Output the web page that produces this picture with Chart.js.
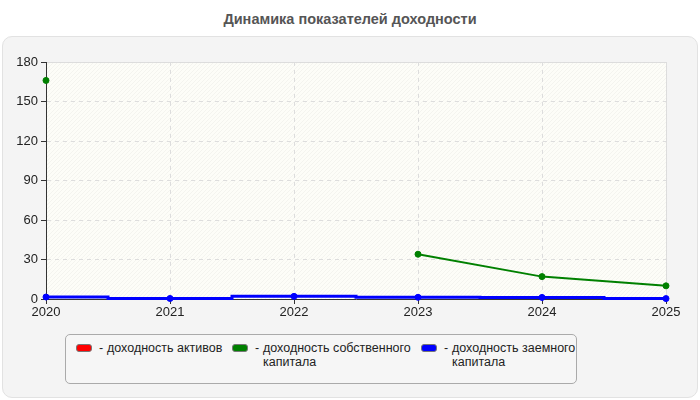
<!DOCTYPE html>
<html>
<head>
<meta charset="utf-8">
<script src="https://cdn.jsdelivr.net/npm/chart.js@4"></script>
<style>
  body { margin: 0; background: #fff; font-family: "Liberation Sans", Arial, sans-serif; }
  #title { position: absolute; left: 0; top: 11px; width: 700px; text-align: center; font-weight: bold; font-size: 14.5px; color: #555; }
  #panel { position: absolute; left: 2px; top: 36px; width: 694px; height: 360px; background: #f4f4f4; border: 1px solid #e2e2e2; border-radius: 10px; }
  #wrap { position: absolute; left: 0; top: 37px; width: 700px; height: 290px; }
  #legend { position: absolute; left: 65px; top: 334px; width: 510px; height: 48px; border: 1px solid #aaa; border-radius: 5px; background: #f6f6f6; }
  .item { position: absolute; top: 6px; font-size: 12.5px; color: #222; line-height: 14px; }
  .sw { position: absolute; left: 0; top: 3px; width: 14px; height: 6px; border: 1px solid #777; border-radius: 3px; }
  .dash { position: absolute; left: 23px; top: 0; }
  .txt { position: absolute; left: 31px; top: 0; white-space: nowrap; }
</style>
</head>
<body>
<div id="title">Динамика показателей доходности</div>
<div id="panel"></div>
<div id="wrap"><canvas id="chart" width="700" height="290"></canvas></div>
<div id="legend"></div>

<script>
const years = ["2020", "2021", "2022", "2023", "2024", "2025"];
const assetReturn = [null, null, null, null, null, null];
const equityReturn = [166, null, null, 34, 17, 10];
const debtReturn = [1.5, 0.4, 2, 1.3, 1.2, 0.3];
const yTicks = [0, 30, 60, 90, 120, 150, 180];

const seriesNames = ["доходность активов", "доходность собственного\nкапитала", "доходность заемного\nкапитала"];
const seriesColors = ["#ff0000", "#008000", "#0000ff"];

/* Legend */
const legendBox = document.getElementById("legend");
const legendX = [10, 166, 355];
seriesNames.forEach((name, i) => {
  const item = document.createElement("div");
  item.className = "item";
  item.style.left = legendX[i] + "px";
  item.innerHTML = '<div class="sw" style="background:' + seriesColors[i] + '"></div>' +
    '<span class="dash">-</span>' +
    '<div class="txt">' + name.replace("\n", "<br>") + '</div>';
  legendBox.appendChild(item);
});

/* Plot area background with hatching */
const plotBg = {
  id: "plotBg",
  beforeDraw(chart) {
    const { ctx, chartArea: a } = chart;
    ctx.save();
    ctx.fillStyle = "#fdfdf8";
    ctx.fillRect(a.left, a.top, a.right - a.left, a.bottom - a.top);
    ctx.beginPath();
    ctx.rect(a.left, a.top, a.right - a.left, a.bottom - a.top);
    ctx.clip();
    ctx.strokeStyle = "rgba(0,0,0,0.035)";
    ctx.lineWidth = 1;
    for (let x = a.left - (a.bottom - a.top); x < a.right; x += 4) {
      ctx.beginPath();
      ctx.moveTo(x, a.bottom);
      ctx.lineTo(x + (a.bottom - a.top), a.top);
      ctx.stroke();
    }
    ctx.restore();
    ctx.save();
    ctx.strokeStyle = "#dcdcdc";
    ctx.strokeRect(a.left + 0.5, a.top + 0.5, a.right - a.left, a.bottom - a.top);
    ctx.restore();
  }
};

const tickFont = { family: "Liberation Sans", size: 13 };

const ctx = document.getElementById("chart").getContext("2d");
new Chart(ctx, {
  type: "line",
  data: {
    labels: years,
    datasets: [
      { label: seriesNames[0], data: assetReturn, borderColor: seriesColors[0], backgroundColor: seriesColors[0], borderWidth: 2, pointRadius: 3, pointBorderWidth: 1, clip: false },
      { label: seriesNames[1], data: equityReturn, borderColor: seriesColors[1], backgroundColor: seriesColors[1], borderWidth: 2, pointRadius: 3, pointBorderWidth: 1, clip: false },
      { label: seriesNames[2], data: debtReturn, borderColor: seriesColors[2], backgroundColor: seriesColors[2], borderWidth: 3, pointRadius: 3, pointBorderWidth: 1, stepped: "middle", clip: false }
    ]
  },
  plugins: [plotBg],
  options: {
    responsive: false,
    animation: false,
    layout: { padding: { top: 25, right: 34, left: 0, bottom: 0 } },
    plugins: { legend: { display: false }, tooltip: { enabled: false } },
    scales: {
      x: {
        offset: false,
        grid: { color: "#dddddd", tickLength: 5, tickColor: "#333" },
        border: { color: "#333", width: 1, dash: [4, 4] },
        ticks: { color: "#222", font: tickFont, padding: 1, maxRotation: 0 },
        afterFit(s) { s.height = 28; }
      },
      y: {
        min: 0,
        max: 180,
        afterBuildTicks(s) { s.ticks = yTicks.map(v => ({ value: v })); },
        grid: { color: "#dddddd", tickLength: 5, tickColor: "#333" },
        border: { color: "#333", width: 1, dash: [4, 4] },
        ticks: { color: "#222", font: tickFont, padding: 3 },
        afterFit(s) { s.width = 46; }
      }
    }
  }
});
</script>
</body>
</html>
